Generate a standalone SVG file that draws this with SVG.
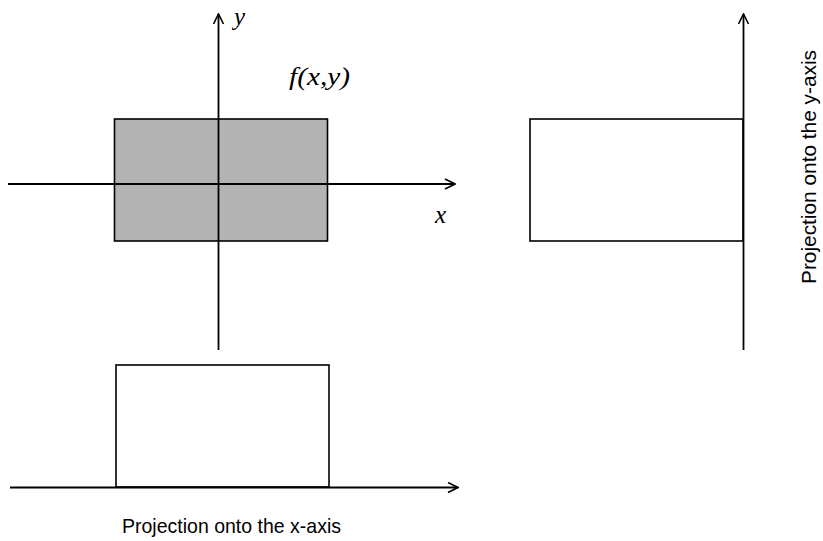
<svg xmlns="http://www.w3.org/2000/svg" width="823" height="541" viewBox="0 0 823 541">
<style>
.ax{stroke:#000;stroke-width:1.8;fill:none}
.bx{stroke:#000;stroke-width:1.6}
.it{font-family:"Liberation Serif",serif;font-style:italic;font-size:25px;fill:#000}
.lb{font-family:"Liberation Sans",sans-serif;font-size:21px;fill:#000}
</style>
<defs>
<marker id="ar" viewBox="0 0 12 12" refX="11" refY="6" markerWidth="12" markerHeight="12" markerUnits="userSpaceOnUse" orient="auto">
<path d="M1,1 L11,6 L1,11" fill="none" stroke="#000" stroke-width="1.6"/>
</marker>
</defs>
<g id="shaded">
<rect class="bx" x="114.5" y="119" width="213" height="122" fill="#b3b3b3"/>
</g>
<g id="proj-y">
<rect class="bx" x="530" y="119" width="213" height="122" fill="#fff"/>
</g>
<g id="proj-x">
<rect class="bx" x="116" y="365" width="213" height="122" fill="#fff"/>
</g>
<g id="connectors">
<line class="ax" x1="8" y1="184" x2="455" y2="184" marker-end="url(#ar)"/>
<line class="ax" x1="218.5" y1="350" x2="218.5" y2="14" marker-end="url(#ar)"/>
<line class="ax" x1="743.5" y1="350" x2="743.5" y2="14" marker-end="url(#ar)"/>
<line class="ax" x1="10" y1="487.5" x2="458" y2="487.5" marker-end="url(#ar)"/>
</g>
<g id="labels">
<text class="it" x="234" y="25">y</text>
<text class="it" x="289" y="85" textLength="61" lengthAdjust="spacingAndGlyphs">f(x,y)</text>
<text class="it" x="435" y="223">x</text>
<text class="lb" x="122" y="533" textLength="219" lengthAdjust="spacingAndGlyphs">Projection onto the x-axis</text>
<text class="lb" transform="translate(816,284) rotate(-90)" x="0" y="0" textLength="234" lengthAdjust="spacingAndGlyphs">Projection onto the y-axis</text>
</g>
</svg>
